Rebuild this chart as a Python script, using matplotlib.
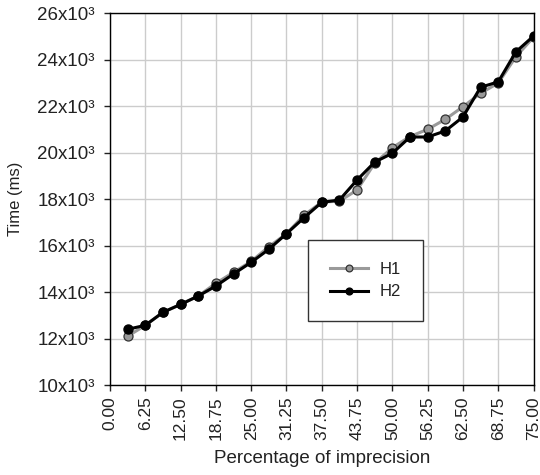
import matplotlib
matplotlib.use("Agg")
import matplotlib.pyplot as plt
from matplotlib.ticker import FuncFormatter, MultipleLocator

plt.rcParams['font.family'] = ['Liberation Sans', 'DejaVu Sans']

x = [3.125, 6.25, 9.375, 12.5, 15.625, 18.75, 21.875, 25.0, 28.125, 31.25, 34.375, 37.5,
     40.625, 43.75, 46.875, 50.0, 53.125, 56.25, 59.375, 62.5, 65.625, 68.75, 71.875, 75.0]
h1 = [12.11, 12.58, 13.14, 13.48, 13.84, 14.39, 14.86, 15.33, 15.96, 16.52, 17.32, 17.88,
      17.92, 18.40, 19.55, 20.22, 20.70, 21.01, 21.44, 21.98, 22.56, 23.00, 24.13, 24.97]
h2 = [12.41, 12.58, 13.14, 13.48, 13.84, 14.27, 14.79, 15.29, 15.85, 16.52, 17.21, 17.87,
      17.97, 18.83, 19.60, 19.98, 20.68, 20.68, 20.94, 21.54, 22.82, 23.05, 24.34, 25.02]
h1 = [v * 1000 for v in h1]
h2 = [v * 1000 for v in h2]

fig = plt.figure(figsize=(5.4, 4.75), dpi=100)
ax = fig.add_axes([0.2037, 0.1888, 0.7843, 0.7832])

ax.plot(x, h1, color='#9a9a9a', lw=2.2, marker='o', ms=6.5, mfc='#999999', mec='#333333', mew=0.9,
        label='H1', zorder=3)
ax.plot(x, h2, color='black', lw=2.2, marker='o', ms=6.5, mfc='black', mec='black',
        label='H2', zorder=4)

ax.set_xlim(0, 75)
ax.set_ylim(10000, 26000)
ax.xaxis.set_major_locator(MultipleLocator(6.25))
ax.yaxis.set_major_locator(MultipleLocator(2000))
ax.xaxis.set_major_formatter(FuncFormatter(lambda v, p: f"{v:.2f}"))
ax.yaxis.set_major_formatter(FuncFormatter(lambda v, p: f"{int(round(v/1000))}x10\u00b3"))
ax.tick_params(axis='x', labelrotation=90, labelsize=12.5, length=4, width=1, direction='out',
               colors='#222222', pad=4)
ax.tick_params(axis='y', labelsize=13.5, length=4, width=1, direction='out', colors='#222222', pad=7)
ax.grid(True, color='#cccccc', lw=1)
ax.set_axisbelow(True)
for s in ax.spines.values():
    s.set_color('black')
    s.set_linewidth(1)

ax.set_xlabel('Percentage of imprecision', fontsize=13.5, labelpad=7, color='#222222')
ax.set_ylabel('Time (ms)', fontsize=12, labelpad=10, color='#222222')

leg = ax.legend(loc='upper left', bbox_to_anchor=(0.4675, 0.39), frameon=True, fancybox=False,
                edgecolor='#333333', framealpha=1, fontsize=12, handlelength=2.3, borderpad=1.3,
                labelspacing=0.45, handletextpad=0.7, borderaxespad=0, markerscale=0.75)
leg.get_frame().set_linewidth(1)
for t in leg.get_texts():
    t.set_color('#222222')
leg.get_frame().set_width(leg.get_frame().get_width())

fig.canvas.draw()
fr = leg.get_frame()
fr.set_width(fr.get_width() + 5)

fig.savefig('out.png', dpi=100)
